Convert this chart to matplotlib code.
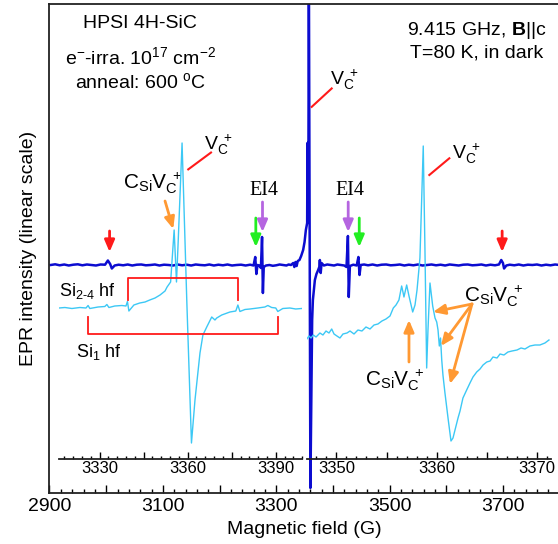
import matplotlib
matplotlib.use("Agg")
import matplotlib.pyplot as plt
from matplotlib.ticker import MultipleLocator, FuncFormatter

plt.rcParams['font.family'] = ['Liberation Sans', 'DejaVu Sans']
plt.rcParams['mathtext.fontset'] = 'custom'
plt.rcParams['mathtext.rm'] = 'Liberation Sans'
plt.rcParams['mathtext.it'] = 'Liberation Sans:italic'
plt.rcParams['mathtext.bf'] = 'Liberation Sans:bold'
plt.rcParams['mathtext.default'] = 'regular'

# full scan, 2900-3800 G (dark blue)
blue_field = [2902, 2910, 2918, 2926, 2934, 2942, 2950, 2958, 2966, 2974, 2982, 2990, 2998,
              3003, 3007, 3010, 3015, 3022, 3030, 3038, 3046, 3054, 3062, 3070, 3078, 3086,
              3094, 3102, 3110, 3118, 3126, 3134, 3142, 3150, 3158, 3166, 3174, 3182, 3190,
              3198, 3206, 3214, 3222, 3230, 3238, 3246, 3254, 3260, 3263, 3265, 3267, 3270,
              3273, 3275, 3276.5, 3278, 3282, 3288, 3294, 3300, 3306, 3312, 3318, 3322, 3326,
              3330, 3332, 3334, 3336, 3338, 3341, 3344, 3347.5, 3350, 3352.3, 3354.6, 3355.1,
              3355.6, 3356.1, 3356.6, 3357.6, 3360.3, 3362.0, 3363.4, 3364.7, 3368.2, 3371,
              3374, 3376, 3377, 3378.5, 3380, 3384, 3390, 3396, 3402, 3408, 3414, 3420, 3424,
              3426.5, 3428, 3430, 3436, 3442, 3445, 3447, 3449, 3455, 3462, 3470, 3478, 3486,
              3494, 3502, 3510, 3518, 3526, 3534, 3542, 3550, 3558, 3566, 3574, 3582, 3590,
              3598, 3606, 3614, 3622, 3630, 3638, 3646, 3654, 3662, 3670, 3678, 3686, 3693,
              3697, 3700, 3702, 3706, 3712, 3720, 3728, 3736, 3744, 3752, 3760, 3768, 3776,
              3784, 3792, 3800]
blue_int = [0.0, 0.07, -0.03, 0.05, -0.05, 0.03, 0.07, -0.03, 0.05, 0.0, -0.05, 0.05, 0.03,
            0.45, 0.1, -0.35, -0.05, 0.03, -0.03, 0.05, -0.05, 0.03, 0.05, -0.03, 0.0, 0.05,
            -0.05, 0.03, 0.0, -0.05, 0.05, -0.03, 0.03, -0.05, 0.05, 0.0, -0.03, 0.05, -0.05,
            0.03, -0.03, 0.05, -0.05, 0.0, 0.03, -0.05, 0.03, -0.05, 0.8, -0.9, 0.0, -0.05,
            -0.3, 2.8, -2.8, -0.2, -0.05, 0.0, -0.08, -0.03, 0.05, 0.0, -0.05, 0.05, 0.0,
            0.2, -0.2, 0.3, -0.1, 0.4, 0.5, 0.9, 1.5, 2.3, 3.5, 4.2, 12.2,
            4.3, 12.2, 4.6, 30.0, -22.3, -13.5, -5.5, -3.5, -1.5, -0.9,
            -0.5, -0.2, 0.5, -0.8, 0.2, -0.05, 0.05, 0.0, -0.05, 0.05, 0.0, -0.05, -0.2,
            2.9, -3.2, -0.1, 0.03, -0.05, 0.8, -1.0, 0.0, 0.05, -0.03, 0.05, -0.05, 0.03,
            0.05, -0.03, 0.0, 0.05, -0.05, 0.03, -0.03, 0.05, -0.05, 0.0, 0.05, -0.03, 0.03,
            -0.05, 0.05, 0.0, -0.05, 0.03, 0.05, -0.03, 0.0, 0.05, -0.05, 0.03, -0.03, 0.05,
            0.5, 0.2, -0.35, -0.05, 0.03, -0.03, 0.05, -0.05, 0.03, 0.0, 0.05, -0.05, 0.03,
            -0.03, 0.05, 0.0]

# zoomed scan 1 (left inset, 3316-3399 G)
cyan_left_field = [3316.2, 3318.2, 3320.6, 3323.3, 3325.4, 3326.1, 3326.7, 3329.5, 3331.8,
                   3332.5, 3333.2, 3335.2, 3337.6, 3339.0, 3339.5, 3340.0, 3341.7, 3343.7,
                   3345.5, 3347.1, 3348.9, 3350.6, 3352.3, 3353.0, 3354.2, 3355.4, 3356.2,
                   3356.8, 3358.1, 3359.7, 3361.3, 3362.5, 3364.2, 3365.2, 3366.5, 3368.2,
                   3369.3, 3369.9, 3371.6, 3374.4, 3376.4, 3377.1, 3377.8, 3379.5, 3381.2,
                   3383.9, 3386.3, 3387.3, 3388.6, 3390.0, 3390.7, 3392.4, 3394.8, 3396.8,
                   3398.8]
cyan_left_int = [-4.3, -4.25, -4.35, -4.25, -4.3, -4.05, -4.35, -4.2, -4.15,
                 -3.95, -4.25, -4.1, -4.05, -4.1, -3.65, -4.6, -4.0, -3.8,
                 -3.7, -3.5, -3.3, -3.0, -2.6, -2.2, -1.7, 3.5, -1.7,
                 2.5, 12.2, -3.5, -17.8, -13.5, -8.8, -7.0, -6.2, -5.2,
                 -5.5, -5.3, -5.0, -4.7, -4.6, -4.0, -4.65, -4.45, -4.4,
                 -4.3, -4.2, -4.05, -4.25, -4.3, -4.65, -4.35, -4.3, -4.4,
                 -4.35]

# zoomed scan 2 (right inset, 3347-3371 G)
cyan_right_field = [3347.06, 3347.28, 3347.48, 3347.71, 3347.98, 3348.37, 3348.67, 3348.97,
                    3349.27, 3349.54, 3349.77, 3350.06, 3350.36, 3350.66, 3351.06, 3351.36,
                    3351.76, 3352.15, 3352.55, 3352.95, 3353.35, 3353.75, 3354.14, 3354.54,
                    3354.94, 3355.34, 3355.67, 3355.94, 3356.23, 3356.50, 3356.63, 3356.73,
                    3357.00, 3357.23, 3357.60, 3357.83, 3358.03, 3358.32, 3358.65, 3358.82,
                    3358.99, 3359.12, 3359.32, 3359.59, 3359.82, 3359.99, 3360.12, 3360.25,
                    3360.37, 3360.49, 3360.61, 3360.81, 3361.14, 3361.41, 3361.61, 3361.81,
                    3362.11, 3362.31, 3362.60, 3362.97, 3363.30, 3363.60, 3363.97, 3364.30,
                    3364.60, 3364.97, 3365.30, 3365.59, 3365.99, 3366.29, 3366.68, 3367.08,
                    3367.48, 3367.98, 3368.38, 3368.77, 3369.27, 3369.77, 3370.26, 3370.76,
                    3371.16]
cyan_right_int = [-7.4, -7.1, -7.3, -7.0, -7.2, -6.8, -7.0, -6.6,
                  -6.8, -6.4, -6.9, -7.1, -7.3, -6.9, -6.8, -6.6,
                  -6.9, -6.5, -6.6, -6.2, -6.4, -6.0, -5.9, -5.6,
                  -5.4, -5.1, -4.3, -4.0, -3.5, -2.1, -2.7, -3.2,
                  -2.0, -3.1, -4.7, -4.0, -2.5, 0.7, 11.9, 1.5,
                  -10.3, -6.5, -1.8, -4.1, -5.3, -5.7, -6.5, -8.1,
                  -7.3, -9.5, -11.0, -12.8, -15.5, -17.6, -17.3, -16.5,
                  -15.3, -14.6, -13.3, -12.5, -11.8, -11.2, -10.7, -10.4,
                  -10.0, -9.7, -9.6, -9.2, -9.3, -8.9, -9.0, -8.7,
                  -8.6, -8.5, -8.3, -8.4, -8.1, -8.0, -8.0, -7.8,
                  -7.5]

# 29Si hyperfine line pairs (left inset scale)
si24_hf = [3339.6, 3377.2]
si1_hf = [3326.2, 3390.6]

# EPR line markers on the full scan
red_lines = [3006, 3698.6]
green_lines = [3264, 3446.5]
ei4_lines = [3275.8, 3427]

BLUE = '#0c0cd0'
CYAN = '#3cc8f5'
RED = '#ff1a1a'
GREEN = '#22ee22'
PURPLE = '#b565e0'
ORANGE = '#ff9933'

fig = plt.figure(figsize=(5.58, 5.44), dpi=100)
ylim = (-22.77, 26.07)
axis_y = -19.35

ax = fig.add_axes([0.0887, 0.0943, 0.9142, 0.8978])
ax.plot(blue_field, blue_int, color=BLUE, lw=1.8)
ax.set_xlim(2900, 3800)
ax.set_ylim(*ylim)
ax.set_yticks([])
ax.xaxis.set_major_locator(MultipleLocator(100))
ax.xaxis.set_minor_locator(MultipleLocator(20))
ax.xaxis.set_major_formatter(FuncFormatter(lambda v, p: f'{v:.0f}' if round(v) % 200 == 100 else ''))
ax.tick_params(axis='x', which='major', direction='in', length=6, width=1, labelsize=14, pad=4)
ax.tick_params(axis='x', which='minor', direction='in', length=3, width=1)
for s in ax.spines.values():
    s.set_linewidth(1.3)
    s.set_color('#222222')
ax.set_xlabel('Magnetic field (G)', fontsize=14, labelpad=4)
ax.set_ylabel('EPR intensity (linear scale)', fontsize=14, labelpad=9)


def inset(rect, xlim, major, minor, lab):
    a = fig.add_axes(rect)
    a.set_facecolor('none')
    a.set_xlim(*xlim)
    a.set_ylim(*ylim)
    a.set_yticks([])
    for k in ['top', 'left', 'right']:
        a.spines[k].set_visible(False)
    a.spines['bottom'].set_position(('data', axis_y))
    a.spines['bottom'].set_linewidth(1.3)
    a.spines['bottom'].set_color('#222222')
    a.xaxis.set_major_locator(MultipleLocator(major))
    a.xaxis.set_minor_locator(MultipleLocator(minor))
    a.xaxis.set_major_formatter(FuncFormatter(lambda v, p: f'{v:.0f}' if round(v) % lab == 0 else ''))
    a.tick_params(axis='x', which='major', direction='in', length=5, width=1, labelsize=12, pad=2)
    a.tick_params(axis='x', which='minor', direction='in', length=2.5, width=1)
    return a


axl = inset([0.1052, 0.0943, 0.4369, 0.8978], (3316.1, 3399.1), 15, 3, 30)
axr = inset([0.5498, 0.0943, 0.4376, 0.8978], (3347.06, 3371.36), 5, 1, 10)
axl.plot(cyan_left_field, cyan_left_int, color=CYAN, lw=1)
axr.plot(cyan_right_field, cyan_right_int, color=CYAN, lw=1)

# hf brackets
axl.plot([si24_hf[0], si24_hf[0], si24_hf[1], si24_hf[1]], [-3.5, -1.3, -1.3, -3.5], color=RED, lw=1.3)
axl.plot([si1_hf[0], si1_hf[0], si1_hf[1], si1_hf[1]], [-5.17, -6.9, -6.9, -5.17], color=RED, lw=1.3)


def arrow(a, x0, y0, x1, y1, c):
    a.annotate('', xy=(x1, y1), xytext=(x0, y0),
               arrowprops=dict(arrowstyle='-|>,head_length=0.7,head_width=0.3', color=c, lw=2,
                               shrinkA=0, shrinkB=0))


for f in red_lines:
    arrow(ax, f, 3.4, f, 1.3, RED)
for f in green_lines:
    arrow(ax, f, 4.7, f, 1.8, GREEN)
for f in ei4_lines:
    arrow(ax, f, 6.3, f, 3.3, PURPLE)
    ax.text(f + 3, 7.4, 'EI4', fontsize=14.5, family='Liberation Serif', ha='center', va='center')

arrow(axl, 3352.3, 6.4, 3355.1, 3.6, ORANGE)
arrow(axr, 3357.23, -9.7, 3357.23, -5.5, ORANGE)
for x1, y1 in [(3359.62, -4.7), (3360.41, -8.1), (3361.31, -11.9)]:
    arrow(axr, 3363.5, -3.9, x1, y1, ORANGE)

# leader lines for V_C+
tr = ax.transAxes
for (x0, y0, x1, y1) in [(0.272, 0.662, 0.3166, 0.6965), (0.514, 0.790, 0.5532, 0.8277),
                         (0.7446, 0.6505, 0.7838, 0.6847)]:
    ax.plot([x0, x1], [y0, y1], color=RED, lw=1.5, transform=tr)

vc = r'$V_C^{\ +}$'
for (x, y) in [(0.303, 0.712), (0.550, 0.845), (0.7885, 0.6935)]:
    ax.text(x, y, vc, transform=tr, fontsize=14, ha='left', va='center')

csi = r'$C_{Si}V_C^{\ +}$'
for (x, y) in [(0.144, 0.634), (0.8126, 0.4027), (0.6185, 0.2307)]:
    ax.text(x, y, csi, transform=tr, fontsize=15, ha='left', va='center')

ax.text(0.0186, 0.413, r'Si$_{2\text{-}4}$ hf', transform=tr, fontsize=13, ha='left', va='center')
ax.text(0.052, 0.288, r'Si$_1$ hf', transform=tr, fontsize=13, ha='left', va='center')

ax.text(0.1774, 0.9617, 'HPSI 4H-SiC', transform=tr, fontsize=14, ha='center', va='center')
ax.text(0.1774, 0.892, r'e$^{-}$-irra. 10$^{17}$ cm$^{-2}$', transform=tr, fontsize=14, ha='center', va='center')
ax.text(0.1774, 0.8407, r'anneal: 600 $^{o}$C', transform=tr, fontsize=14, ha='center', va='center')
ax.text(0.838, 0.947, r'9.415 GHz, $\mathbf{B}$||c', transform=tr, fontsize=14, ha='center', va='center')
ax.text(0.838, 0.900, 'T=80 K, in dark', transform=tr, fontsize=14, ha='center', va='center')

fig.savefig('out.png', dpi=100)
